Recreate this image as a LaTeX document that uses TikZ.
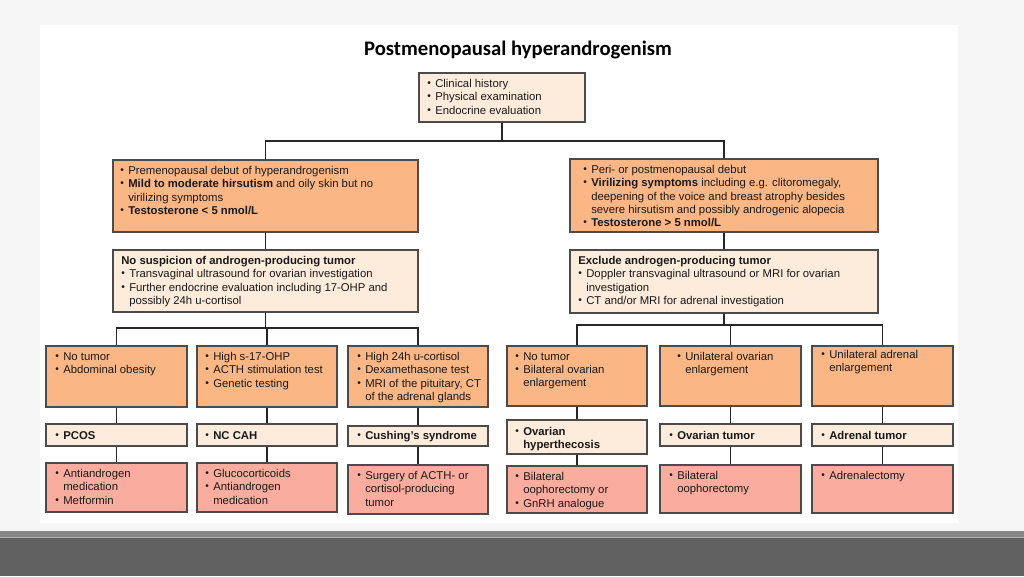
\documentclass[tikz,border=0pt]{standalone}
\usepackage{fontspec}
\setmainfont{Liberation Sans}
\newfontfamily\titlefont{Carlito}
\usetikzlibrary{fit}
\definecolor{orng}{RGB}{250,182,132}
\definecolor{lite}{RGB}{253,235,219}
\definecolor{pnk}{RGB}{250,172,158}
\definecolor{edgec}{RGB}{75,75,75}
\definecolor{bgslide}{RGB}{246,246,246}
\definecolor{barA}{RGB}{136,136,136}
\definecolor{barL}{RGB}{175,175,175}
\definecolor{barB}{RGB}{96,96,96}
\newlength\bw \setlength\bw{6pt}
\newcommand\bul{\makebox[\bw][l]{\raisebox{0.08em}{\scalebox{0.9}{\textbullet}}}}
\newcommand\ind{\hspace*{\bw}}
\begin{document}
\begin{tikzpicture}[x=0.75pt,y=-0.75pt,
  box/.style={draw=edgec, line width=0.8pt, inner sep=0pt},
  obox/.style={box, fill=orng},
  lbox/.style={box, fill=lite},
  pbox/.style={box, fill=pnk},
  txt/.style={anchor=north west, inner sep=0pt, align=left, text=black!90, font=\fontsize{8.5}{10}\selectfont},
  conn/.style={draw=black!85, line width=0.9pt}]
% slide background
\fill[bgslide] (0,0) rectangle (1024,576);
\fill[white] (40,25) rectangle (958,523);
\fill[barA] (0,531) rectangle (1024,537);
\fill[barL] (0,537) rectangle (1024,538);
\fill[barB] (0,538) rectangle (1024,576);
\useasboundingbox (0,0) rectangle (1024,576);

\node[font=\titlefont\bfseries\fontsize{15.5}{18}\selectfont] (title) at (518,50) {Postmenopausal hyperandrogenism};

% boxes
\node[lbox, fit={(419,73) (585,122)}] (top) {};
\node[obox, fit={(113,160) (418,232)}] (L1) {};
\node[obox, fit={(570,159) (878,232)}] (R1) {};
\node[lbox, fit={(113,250) (418,312)}] (L2) {};
\node[lbox, fit={(570,250) (878,313)}] (R2) {};

\node[obox, fit={(46,346) (187,407)}] (a1) {};
\node[obox, fit={(197,346) (337,407)}] (a2) {};
\node[obox, fit={(348,346) (488,407)}] (a3) {};
\node[obox, fit={(507,346) (647,406)}] (a4) {};
\node[obox, fit={(660,346) (801,406)}] (a5) {};
\node[obox, fit={(812,346) (953,406)}] (a6) {};

\node[lbox, fit={(46,424) (187,446)}] (b1) {};
\node[lbox, fit={(197,424) (337,446)}] (b2) {};
\node[lbox, fit={(348,426) (488,446)}] (b3) {};
\node[lbox, fit={(507,420) (647,454)}] (b4) {};
\node[lbox, fit={(660,424) (801,446)}] (b5) {};
\node[lbox, fit={(812,424) (953,446)}] (b6) {};

\node[pbox, fit={(46,463) (187,512)}] (c1) {};
\node[pbox, fit={(197,463) (337,512)}] (c2) {};
\node[pbox, fit={(348,465) (488,514)}] (c3) {};
\node[pbox, fit={(507,466) (647,513)}] (c4) {};
\node[pbox, fit={(660,465) (801,513)}] (c5) {};
\node[pbox, fit={(812,465) (953,513)}] (c6) {};

% texts
\node[txt] (topt) at (427,79) {\bul Clinical history\\ \bul Physical examination\\ \bul Endocrine evaluation};
\node[txt] (L1t) at (120,166) {\bul Premenopausal debut of hyperandrogenism\\ \bul \textbf{Mild to moderate hirsutism} and oily skin but no\\ \ind virilizing symptoms\\ \bul \textbf{Testosterone < 5 nmol/L}};
\node[txt] (R1t) at (583,165) {\bul Peri- or postmenopausal debut\\ \bul \textbf{Virilizing symptoms} including e.g. clitoromegaly,\\ \ind deepening of the voice and breast atrophy besides\\ \ind severe hirsutism and possibly androgenic alopecia\\ \bul \textbf{Testosterone > 5 nmol/L}};
\node[txt] (L2t) at (121,256) {\textbf{No suspicion of androgen-producing tumor}\\ \bul Transvaginal ultrasound for ovarian investigation\\ \bul Further endocrine evaluation including 17-OHP and\\ \ind possibly 24h u-cortisol};
\node[txt] (R2t) at (578,256) {\textbf{Exclude androgen-producing tumor}\\ \bul Doppler transvaginal ultrasound or MRI for ovarian\\ \ind investigation\\ \bul CT and/or MRI for adrenal investigation};

\node[txt] (a1t) at (55,352) {\bul No tumor\\ \bul Abdominal obesity};
\node[txt] (a2t) at (205,352) {\bul High s-17-OHP\\ \bul ACTH stimulation test\\ \bul Genetic testing};
\node[txt] (a3t) at (357,352) {\bul High 24h u-cortisol\\ \bul Dexamethasone test\\ \bul MRI of the pituitary, CT\\ \ind of the adrenal glands};
\node[txt] (a4t) at (515,352) {\bul No tumor\\ \bul Bilateral ovarian\\ \ind enlargement};
\node[txt] (a5t) at (677,352) {\bul Unilateral ovarian\\ \ind enlargement};
\node[txt] (a6t) at (821,350) {\bul Unilateral adrenal\\ \ind enlargement};

\node[txt] (b1t) at (55,431) {\bul \textbf{PCOS}};
\node[txt] (b2t) at (205,431) {\bul \textbf{NC CAH}};
\node[txt] (b3t) at (357,431) {\bul \textbf{Cushing's syndrome}};
\node[txt] (b4t) at (515,427) {\bul \textbf{Ovarian}\\ \ind \textbf{hyperthecosis}};
\node[txt] (b5t) at (669,431) {\bul \textbf{Ovarian tumor}};
\node[txt] (b6t) at (821,431) {\bul \textbf{Adrenal tumor}};

\node[txt] (c1t) at (55,469) {\bul Antiandrogen\\ \ind medication\\ \bul Metformin};
\node[txt] (c2t) at (205,469) {\bul Glucocorticoids\\ \bul Antiandrogen\\ \ind medication};
\node[txt] (c3t) at (357,471) {\bul Surgery of ACTH- or\\ \ind cortisol-producing\\ \ind tumor};
\node[txt] (c4t) at (515,472) {\bul Bilateral\\ \ind oophorectomy or\\ \bul GnRH analogue};
\node[txt] (c5t) at (669,471) {\bul Bilateral\\ \ind oophorectomy};
\node[txt] (c6t) at (821,471) {\bul Adrenalectomy};

% connectors
\coordinate (j0) at (502,141);
\coordinate (jl) at (265,328);
\coordinate (jr) at (724,325);
\draw[conn] (top.south) -- (j0);
\draw[conn] (L1.north) |- (j0) -| (R1.north);
\draw[conn] (L1.south) -- (L2.north);
\draw[conn] (R1.south) -- (R2.north);
\draw[conn] (L2.south) -- (L2.south |- jl);
\draw[conn] (a1.north) |- (jl) -| (a3.north);
\draw[conn] (a2.north) -- (a2.north |- jl);
\draw[conn] (R2.south) -- (R2.south |- jr);
\draw[conn] (a4.north) |- (jr) -| (a6.north);
\draw[conn] (a5.north) -- (a5.north |- jr);
\foreach \i in {1,...,6}{
  \draw[conn] (a\i.south) -- (b\i.north);
  \draw[conn] (b\i.south) -- (c\i.north);
}
\end{tikzpicture}
\end{document}
